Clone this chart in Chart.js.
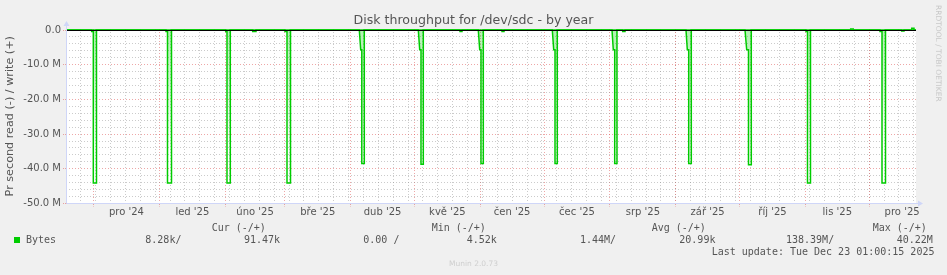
<!DOCTYPE html>
<html lang="cs">
<head>
<meta charset="utf-8">
<title>Disk throughput for /dev/sdc - by year</title>
<script src="https://cdn.jsdelivr.net/npm/chart.js@4.4.1/dist/chart.umd.min.js"></script>
<style>
  body { margin: 0; background: #f0f0f0; }
  #quadro { position: relative; width: 947px; height: 275px; overflow: hidden; background: #f0f0f0; }
  #grafico { position: absolute; left: 0; top: 0; }
  .txt { position: absolute; white-space: pre; }
  .mono { font-family: "DejaVu Sans Mono", monospace; font-size: 10px; line-height: 12px; color: #555; }
  #titulo { left: 0; width: 947px; top: 12px; text-align: center; font-family: "DejaVu Sans", sans-serif; font-size: 12.6px; line-height: 15px; color: #555; }
  #marca { left: 943px; top: 5px; transform: rotate(90deg); transform-origin: 0 0; font-family: "DejaVu Sans", sans-serif; font-size: 7.5px; line-height: 10px; color: #c8c8c8; }
  #munin { left: 0; width: 947px; top: 259px; text-align: center; font-family: "DejaVu Sans", sans-serif; font-size: 7.5px; line-height: 9px; color: #cfcfcf; }
  #quadrado { position: absolute; left: 14px; top: 237px; width: 6px; height: 6px; background: #00cc00; }
</style>
</head>
<body>
<div id="quadro">
  <canvas id="grafico" width="947" height="275"></canvas>
  <div id="titulo" class="txt"></div>
  <div id="marca" class="txt">RRDTOOL / TOBI OETIKER</div>
  <div id="quadrado"></div>
  <div id="munin" class="txt">Munin 2.0.73</div>
</div>
<script>
// janela de 400 dias antes da ultima atualizacao; eixo x em dias
const inicioJanela = Date.UTC(2024, 10, 18, 1, 0, 0);
const diasJanela = 400;

const titulo = 'Disk throughput for /dev/sdc - by year';
const tituloY = 'Pr second read (-) / write (+)';

const mesesInicio = ['2024-12-01', '2025-01-01', '2025-02-01', '2025-03-01', '2025-04-01', '2025-05-01', '2025-06-01',
                     '2025-07-01', '2025-08-01', '2025-09-01', '2025-10-01', '2025-11-01', '2025-12-01', '2026-01-01'];
const mesesRotulos = ["pro '24", "led '25", "úno '25", "bře '25", "dub '25", "kvě '25", "čen '25",
                      "čec '25", "srp '25", "zář '25", "říj '25", "lis '25", "pro '25"];
const primeiraSegunda = '2024-11-25';

// eixo y em milhoes de bytes
const yMin = -50;
const yMax = 0.3;
const yPasso = 2;
const yPassoMaior = 10;

// picos de leitura (valores negativos), em dias desde o inicio da janela
const picoInicio   = [12.09, 47.06, 75.15, 103.06, 138.02, 165.79, 194.02, 228.85, 256.94, 291.76, 319.53, 348.24, 383.06];
const picoDegrauEm = [12.09, 47.06, 75.15, 103.06, 138.68, 166.45, 194.68, 229.51, 257.55, 292.38, 320.33, 348.24, 383.06];
const picoQueda    = [12.85, 47.76, 75.76, 104.00, 139.20, 167.06, 195.29, 230.12, 258.21, 293.04, 321.18, 348.94, 384.00];
const picoFim      = [14.35, 49.65, 77.32, 105.65, 140.38, 168.14, 196.38, 231.20, 259.29, 294.26, 322.49, 350.35, 385.65];
const picoDegrau   = [-0.4, -0.4, -0.4, -0.4, -5.7, -5.7, -5.7, -5.7, -5.7, -5.7, -5.7, -0.4, -0.4];
const picoFundo    = [-44.1, -44.1, -44.1, -44.1, -38.5, -38.7, -38.5, -38.5, -38.5, -38.5, -38.8, -44.1, -44.1];

// leituras pequenas
const leituraInicio = [87.86, 185.41, 205.18, 261.98, 393.27];
const leituraFim    = [89.41, 186.35, 206.12, 263.06, 394.35];
const leituraValor  = [-0.4, -0.4, -0.4, -0.4, -0.3];

// escrita (valores positivos)
const escritaInicio = [369.27, 397.98];
const escritaFim    = [370.49, 399.06];
const escritaValor  = [0.3, 0.5];

// legenda
const legendaColunas = ['Cur (-/+)', 'Min (-/+)', 'Avg (-/+)', 'Max (-/+)'];
const legendaSerie = 'Bytes';
const legendaValores = ['8.28k/', '91.47k', '0.00 /', '4.52k', '1.44M/', '20.99k', '138.39M/', '40.22M'];
const ultimaAtualizacao = 'Last update: Tue Dec 23 01:00:15 2025';

const verde = '#00cc00';
const corTexto = '#555';

function diaDe(dataTexto) {
    return (Date.parse(dataTexto + 'T00:00:00Z') - inicioJanela) / 86400000;
}

function pontosLeitura() {
    const eventos = [];
    picoInicio.forEach((s, i) => eventos.push([
        { x: s, y: 0 },
        { x: picoDegrauEm[i], y: picoDegrau[i] },
        { x: picoQueda[i], y: picoDegrau[i] },
        { x: picoQueda[i], y: picoFundo[i] },
        { x: picoFim[i], y: picoFundo[i] },
        { x: picoFim[i], y: 0 }
    ]));
    leituraInicio.forEach((s, i) => eventos.push([
        { x: s, y: 0 },
        { x: s, y: leituraValor[i] },
        { x: leituraFim[i], y: leituraValor[i] },
        { x: leituraFim[i], y: 0 }
    ]));
    eventos.sort((a, b) => a[0].x - b[0].x);
    const pontos = [{ x: 0, y: 0 }];
    eventos.forEach(e => pontos.push(...e));
    pontos.push({ x: diasJanela, y: 0 });
    return pontos;
}

function pontosEscrita() {
    const pontos = [{ x: 0, y: 0 }];
    escritaInicio.forEach((s, i) => {
        pontos.push({ x: s, y: 0 }, { x: s, y: escritaValor[i] },
                    { x: escritaFim[i], y: escritaValor[i] }, { x: escritaFim[i], y: 0 });
    });
    pontos.push({ x: diasJanela, y: 0 });
    return pontos;
}

// ticks do eixo x: semanas (cinza), inicio de mes (vermelho), meio do mes (rotulo)
const ticksX = [];
for (let d = diaDe(primeiraSegunda); d < diasJanela; d += 7) {
    ticksX.push({ value: d, tipo: 'semana', rotulo: '' });
}
mesesInicio.forEach((m, i) => {
    const d = diaDe(m);
    if (d > 0 && d < diasJanela) ticksX.push({ value: d, tipo: 'mes', rotulo: '' });
    if (i < mesesRotulos.length) {
        const meio = (d + diaDe(mesesInicio[i + 1])) / 2;
        ticksX.push({ value: meio, tipo: 'rotulo', rotulo: mesesRotulos[i] });
    }
});

const ticksY = [];
for (let v = yMin; v <= 0; v += yPasso) ticksY.push({ value: v });

const corGrade = 'rgba(140,140,140,0.45)';
const corGradeMaior = 'rgba(222,79,79,0.5)';

function rotuloY(v) {
    if (v % yPassoMaior !== 0) return '';
    return v === 0 ? '0.0' : v.toFixed(1) + ' M';
}

const fundoBranco = {
    id: 'fundoBranco',
    beforeDraw(chart) {
        const { ctx, chartArea: a } = chart;
        ctx.save();
        ctx.fillStyle = '#ffffff';
        ctx.fillRect(a.left, a.top, a.right - a.left, a.bottom - a.top);
        ctx.restore();
    }
};

const eixos = {
    id: 'eixos',
    afterDatasetsDraw(chart) {
        const { ctx, chartArea: a, scales: { y } } = chart;
        const y0 = Math.round(y.getPixelForValue(0)) + 0.5;
        ctx.save();
        ctx.strokeStyle = '#000';
        ctx.lineWidth = 1;
        ctx.beginPath();
        ctx.moveTo(a.left, y0);
        ctx.lineTo(a.right, y0);
        ctx.stroke();

        const esq = Math.round(a.left) + 0.5;
        const baixo = Math.round(a.bottom) - 0.5;
        ctx.strokeStyle = '#cfd6f8';
        ctx.beginPath();
        ctx.moveTo(esq, a.top - 4);
        ctx.lineTo(esq, baixo);
        ctx.lineTo(a.right + 3, baixo);
        ctx.stroke();
        ctx.fillStyle = '#cfd6f8';
        ctx.beginPath();
        ctx.moveTo(esq - 3, a.top - 3);
        ctx.lineTo(esq + 3, a.top - 3);
        ctx.lineTo(esq, a.top - 8);
        ctx.closePath();
        ctx.fill();
        ctx.beginPath();
        ctx.moveTo(a.right + 2, baixo - 3);
        ctx.lineTo(a.right + 2, baixo + 3);
        ctx.lineTo(a.right + 7, baixo);
        ctx.closePath();
        ctx.fill();
        ctx.restore();
    }
};

function gradienteVerde(context) {
    const { chart } = context;
    const a = chart.chartArea;
    if (!a) return 'rgba(0,204,0,0.15)';
    const g = chart.ctx.createLinearGradient(0, a.top, 0, a.bottom);
    g.addColorStop(0, 'rgba(0,204,0,0.3)');
    g.addColorStop(0.7, 'rgba(0,204,0,0.0)');
    return g;
}

function montarLegenda() {
    const quadro = document.getElementById('quadro');
    const add = (texto, x, y) => {
        const el = document.createElement('div');
        el.className = 'txt mono';
        el.style.left = x + 'px';
        el.style.top = y + 'px';
        el.textContent = texto;
        quadro.appendChild(el);
    };
    const xColunas = [211.7, 431.7, 651.7, 872.7];
    const xValores = [145.3, 244, 363.3, 466.7, 580, 679.3, 786, 896.7];
    legendaColunas.forEach((t, i) => add(t, xColunas[i], 222));
    add(legendaSerie, 26, 234);
    legendaValores.forEach((t, i) => add(t, xValores[i], 234));
    add(ultimaAtualizacao, 711.7, 245.5);
}

document.getElementById('titulo').textContent = titulo;
montarLegenda();

const fonte = { family: 'DejaVu Sans', size: 10 };

new Chart(document.getElementById('grafico').getContext('2d'), {
    type: 'line',
    data: {
        datasets: [
            {
                label: 'read',
                data: pontosLeitura(),
                borderColor: verde,
                borderWidth: 1.5,
                pointRadius: 0,
                fill: 'origin',
                backgroundColor: gradienteVerde,
                clip: 3
            },
            {
                label: 'write',
                data: pontosEscrita(),
                borderColor: verde,
                borderWidth: 1.5,
                pointRadius: 0,
                fill: false,
                clip: 3
            }
        ]
    },
    options: {
        responsive: false,
        animation: false,
        devicePixelRatio: 1,
        events: [],
        layout: { padding: { left: 0, right: 31, top: 29, bottom: 51.5 } },
        plugins: {
            legend: { display: false },
            tooltip: { enabled: false },
            title: { display: false }
        },
        scales: {
            x: {
                type: 'linear',
                min: 0,
                max: diasJanela,
                afterBuildTicks: s => { s.ticks = ticksX.map(t => ({ value: t.value })); },
                afterFit: s => { s.height = 20; },
                ticks: {
                    autoSkip: false,
                    maxRotation: 0,
                    minRotation: 0,
                    padding: 0,
                    color: corTexto,
                    font: fonte,
                    callback: (v, i) => ticksX[i].rotulo
                },
                grid: {
                    color: c => ticksX[c.index] && ticksX[c.index].tipo === 'mes' ? corGradeMaior : corGrade,
                    lineWidth: c => ticksX[c.index] && ticksX[c.index].tipo === 'rotulo' ? 0 : 1,
                    tickLength: 3,
                    tickColor: c => ticksX[c.index] && ticksX[c.index].tipo === 'mes' ? corGradeMaior : 'rgba(0,0,0,0)',
                    tickBorderDash: [1, 1]
                },
                border: { display: false, dash: [1, 2] }
            },
            y: {
                min: yMin,
                max: yMax,
                afterBuildTicks: s => { s.ticks = ticksY.map(t => ({ value: t.value })); },
                afterFit: s => { s.width = 66; },
                ticks: {
                    autoSkip: false,
                    padding: 2,
                    color: corTexto,
                    font: fonte,
                    callback: v => rotuloY(v)
                },
                title: {
                    display: true,
                    text: tituloY,
                    color: corTexto,
                    font: { family: 'DejaVu Sans', size: 11.2 },
                    padding: { top: 3.3, bottom: 0 }
                },
                grid: {
                    color: c => c.tick && c.tick.value % yPassoMaior === 0 ? corGradeMaior : corGrade,
                    tickLength: 3,
                    tickColor: c => c.tick && c.tick.value % yPassoMaior === 0 ? corGradeMaior : 'rgba(0,0,0,0)',
                    tickBorderDash: [1, 1]
                },
                border: { display: false, dash: [1, 2] }
            }
        }
    },
    plugins: [fundoBranco, eixos]
});
</script>
</body>
</html>
